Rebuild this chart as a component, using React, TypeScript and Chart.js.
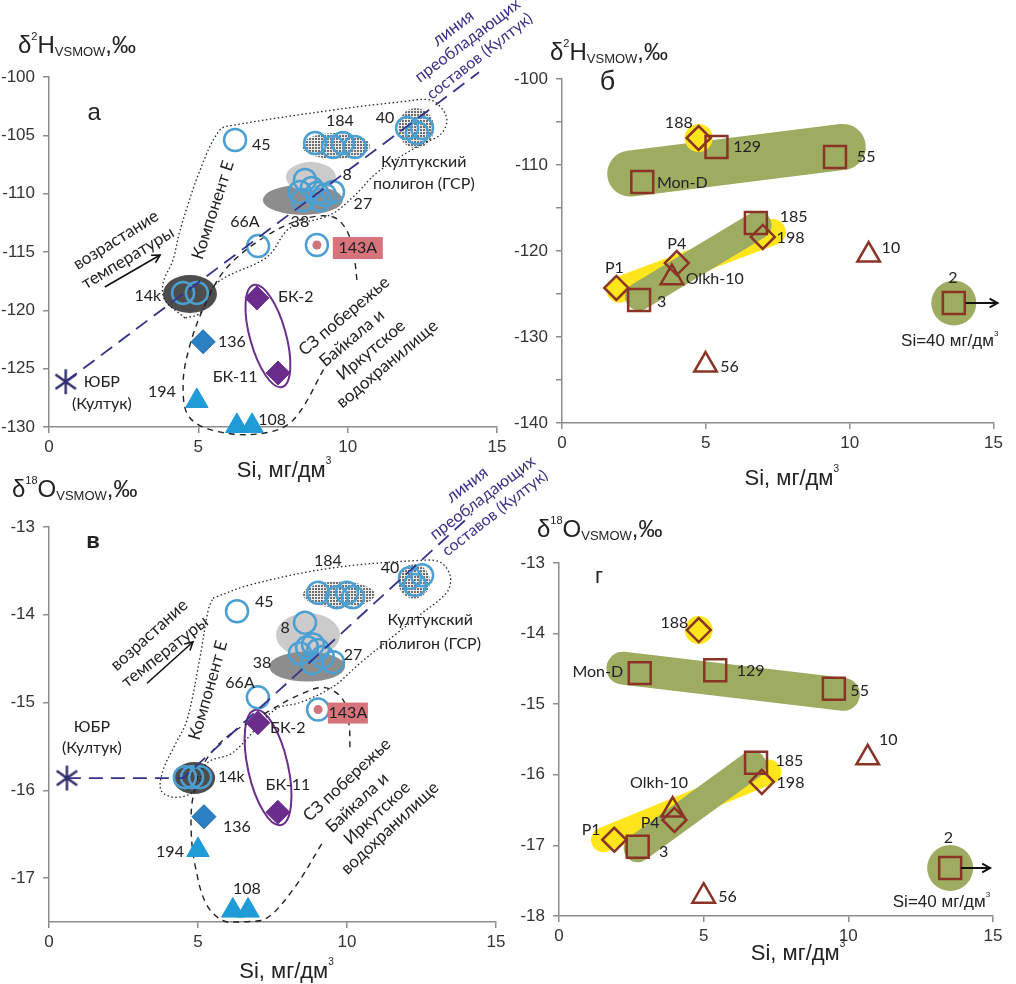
import { useEffect, useRef } from "react";
import { Chart, registerables } from "chart.js";

Chart.register(...registerables);

// ---------------- data ----------------
const siTicks = [0, 5, 10, 15];
const d2hTicksA = [-130, -125, -120, -115, -110, -105, -100];
const d2hTicksB = [-140, -135, -130, -125, -120, -115, -110, -105, -100];
const d2hLabelsB = [-140, -130, -120, -110, -100];
const d18oTicksC = [-17, -16, -15, -14, -13];
const d18oTicksD = [-18, -17, -16, -15, -14, -13];

// panel а : δ2H vs Si
const siYubrH = [0.56];
const d2hYubr = [-126.12];
const si14kH = [4.49, 4.95];
const d2h14k = [-118.51, -118.51];
const si136H = [5.16];
const d2h136 = [-122.69];
const si194H = [4.95];
const d2h194 = [-127.77];
const si108H = [6.29, 6.8];
const d2h108 = [-129.91, -129.91];
const siBkH = [6.96, 7.67];
const d2hBk = [-118.94, -125.37];
const si143H = [8.97];
const d2h143 = [-114.4];
const si66H = [7.0];
const d2h66 = [-114.49];
const si45H = [6.23];
const d2h45 = [-105.4];
const si184H = [8.91, 9.51, 9.84, 10.24];
const d2h184 = [-105.66, -106.0, -105.66, -106.0];
const si40H = [11.99, 12.32, 12.49];
const d2h40 = [-104.37, -104.8, -104.37];
const si8H = [8.57, 8.4, 8.8, 8.97, 9.24, 9.51, 8.5, 9.07];
const d2h8 = [-108.83, -109.86, -109.51, -109.94, -110.11, -109.86, -110.54, -110.54];
const siLineH = [0.56, 14.4];
const d2hLine = [-126.12, -99.6];
const siOutlineEH = [4.55, 3.88, 3.82, 4.15, 4.39, 5.06, 5.72, 6.23, 9.51, 11.75, 12.76, 13.19, 13.32, 13.09, 12.42, 11.01, 10.18, 9.41, 8.07, 7.3, 5.62, 5.06, 4.55];
const d2hOutlineE = [-120.66, -119.11, -117.66, -115.69, -113.11, -107.97, -104.54, -104.11, -102.83, -102.14, -101.97, -102.83, -103.86, -104.97, -105.83, -108.14, -110.29, -111.83, -112.94, -115.43, -117.66, -120.23, -120.66];
const siOutlineNWH = [10.31, 10.24, 10.01, 9.51, 8.4, 7.06, 5.89, 5.22, 4.72, 4.49, 4.72, 5.89, 7.4, 8.24, 9.24];
const d2hOutlineNW = [-117.4, -115.86, -113.37, -112.0, -112.26, -113.97, -116.54, -119.54, -122.97, -126.4, -129.23, -130.51, -130.43, -129.23, -124.86];

// panel в : δ18O vs Si
const siYubrO = [0.6];
const d18oYubr = [-15.86];
const si14kO = [4.56, 4.8, 5.07];
const d18o14k = [-15.85, -15.85, -15.85];
const si136O = [5.2];
const d18o136 = [-16.3];
const si194O = [5.0];
const d18o194 = [-16.68];
const si108O = [6.17, 6.68];
const d18o108 = [-17.37, -17.37];
const siBkO = [7.01, 7.68];
const d18oBk = [-15.23, -16.25];
const si143O = [9.03];
const d18o143 = [-15.08];
const si66O = [7.01];
const d18o66 = [-14.94];
const si45O = [6.31];
const d18o45 = [-13.96];
const si184O = [9.03, 9.66, 10.0, 10.2];
const d18o184 = [-13.75, -13.8, -13.75, -13.8];
const si40O = [12.11, 12.52, 12.28];
const d18o40 = [-13.58, -13.55, -13.66];
const si8O = [8.59, 8.66, 8.42, 8.86, 9.03, 9.19, 9.53, 8.83];
const d18o8 = [-14.09, -14.37, -14.44, -14.34, -14.4, -14.48, -14.54, -14.55];
const siLineO = [0.6, 4.5, 14.2];
const d18oLine = [-15.86, -15.86, -12.85];
const siOutlineEO = [5.5, 6.74, 9.43, 12.45, 13.12, 13.46, 13.36, 12.45, 11.68, 10.44, 9.53, 8.42, 7.58, 6.17, 5.3, 4.9, 4.23, 3.76, 3.83, 4.23, 4.63, 5.07, 5.34, 5.5];
const d18oOutlineE = [-13.81, -13.66, -13.47, -13.38, -13.4, -13.55, -13.74, -14.0, -14.21, -14.55, -14.82, -15.0, -15.08, -15.57, -15.69, -16.0, -16.08, -16.0, -15.77, -15.48, -15.2, -14.48, -13.95, -13.81];
const siOutlineNWO = [10.1, 10.07, 9.87, 9.26, 8.42, 7.32, 5.97, 5.17, 4.83, 4.77, 4.9, 5.3, 5.97, 7.18, 8.19, 9.19];
const d18oOutlineNW = [-15.51, -15.26, -14.97, -14.83, -14.91, -15.11, -15.39, -15.71, -16.08, -16.45, -16.85, -17.31, -17.5, -17.48, -17.13, -16.59];

// panel б : δ2H, squares: 129, 55, Mon-D, 185, 3, 2 ; diamonds: 188, 198, P4, P1 ; triangles: 10, Olkh-10, 56
const siSqB = [5.37, 9.49, 2.79, 6.74, 2.68, 13.62];
const d2hSqB = [-107.91, -109.07, -111.98, -116.74, -125.7, -126.05];
const siDiaB = [4.75, 6.98, 3.99, 1.89];
const d2hDiaB = [-106.86, -118.37, -121.4, -124.3];
const siTriB = [10.66, 3.82, 4.99];
const d2hTriB = [-120.47, -123.1, -133.26];
const siBandUpB = [2.37, 9.76];
const d2hBandUpB = [-111.0, -107.9];
const siBandLowB = [2.68, 6.8];
const d2hBandLowB = [-125.3, -117.0];
const siBandYB = [2.0, 7.33];
const d2hBandYB = [-124.5, -117.8];

// panel г : δ18O, same samples
const siSqD = [5.4, 9.5, 2.79, 6.81, 2.72, 13.52];
const d18oSqD = [-14.52, -14.78, -14.56, -15.83, -17.02, -17.32];
const siDiaD = [4.83, 7.01, 3.99, 1.91];
const d18oDiaD = [-13.95, -16.1, -16.64, -16.92];
const siTriD = [10.67, 3.93, 5.0];
const d18oTriD = [-15.76, -16.5, -17.72];
const siBandUpD = [2.21, 9.83];
const d18oBandUpD = [-14.49, -14.86];
const siBandLowD = [2.72, 6.68];
const d18oBandLowD = [-17.04, -15.86];
const siBandYD = [1.54, 7.25];
const d18oBandYD = [-16.92, -15.96];

// ---------------- styles ----------------
const BLUE = "#4c9fd1";
const BROWN = "#8a3426";
const GREEN = "#9dac60";
const YELLOW = "#ffe61c";
const NAVY = "#34328a";
const NAVY_TXT = "#3d2f86";
const PURPLE = "#6b2d8b";
const TRI_BLUE = "#1f9bd7";
const DIA_BLUE = "#2b80c3";
const TEXT = "#222";
const AXIS = "#8c8c8c";
const LABEL_FONT = 'Lato, "Open Sans", sans-serif';
const AXIS_FONT = '"Liberation Sans", Arial, sans-serif';

Chart.defaults.font.family = AXIS_FONT;

const pts = (xs: number[], ys: number[]) => xs.map((x, i) => ({ x, y: ys[i] }));

function markers(data: any, style: any, r: number, stroke: string, fill: string, lw: number, order = 2) {
  return {
    data,
    pointStyle: style,
    pointRadius: r,
    pointHoverRadius: r,
    pointBorderColor: stroke,
    pointBackgroundColor: fill,
    pointBorderWidth: lw,
    pointHoverBorderWidth: lw,
    showLine: false,
    clip: false,
    order,
  };
}

function line(data: any, color: string, width: number, dash: number[], tension = 0, order = 1, cap = "butt") {
  return {
    data,
    showLine: true,
    borderColor: color,
    backgroundColor: "transparent",
    borderWidth: width,
    borderDash: dash,
    borderCapStyle: cap,
    borderJoinStyle: "round",
    tension,
    fill: false,
    pointRadius: 0,
    pointHoverRadius: 0,
    clip: false,
    order,
  };
}

let asteriskCache: HTMLCanvasElement | null = null;
function asterisk() {
  if (asteriskCache) return asteriskCache;
  const r = 12.5;
  const lw = 2.4;
  const s = Math.ceil(2 * r + 4);
  const c = document.createElement("canvas");
  c.width = s;
  c.height = s;
  const g = c.getContext("2d")!;
  g.strokeStyle = "#2c2a66";
  g.lineWidth = lw;
  const m = s / 2;
  for (const a of [90, 35, 145]) {
    const rad = (a * Math.PI) / 180;
    g.beginPath();
    g.moveTo(m - r * Math.cos(rad), m - r * Math.sin(rad));
    g.lineTo(m + r * Math.cos(rad), m + r * Math.sin(rad));
    g.stroke();
  }
  asteriskCache = c;
  return c;
}

let patternCanvas: HTMLCanvasElement | null = null;
function dotPattern(ctx: CanvasRenderingContext2D) {
  if (!patternCanvas) {
    const c = document.createElement("canvas");
    c.width = 3;
    c.height = 3;
    const g = c.getContext("2d")!;
    g.fillStyle = "#ececec";
    g.fillRect(0, 0, 3, 3);
    g.fillStyle = "#6e6e6e";
    g.fillRect(0, 0, 2, 2);
    patternCanvas = c;
  }
  return ctx.createPattern(patternCanvas, "repeat");
}

type Part = { t: string; size: number; dy?: number };
function drawRich(ctx: CanvasRenderingContext2D, parts: Part[], x: number, base: number, align: string) {
  ctx.save();
  ctx.fillStyle = TEXT;
  ctx.textBaseline = "alphabetic";
  ctx.textAlign = "left";
  let w = 0;
  for (const p of parts) {
    ctx.font = `${p.size}px ${AXIS_FONT}`;
    w += ctx.measureText(p.t).width;
  }
  let cx = align === "center" ? x - w / 2 : align === "right" ? x - w : x;
  for (const p of parts) {
    ctx.font = `${p.size}px ${AXIS_FONT}`;
    ctx.fillText(p.t, cx, base + (p.dy || 0));
    cx += ctx.measureText(p.t).width;
  }
  ctx.restore();
}

function drawArrow(ctx: CanvasRenderingContext2D, x1: number, y1: number, x2: number, y2: number, lw: number, head: number) {
  ctx.save();
  ctx.strokeStyle = "#111";
  ctx.lineWidth = lw;
  ctx.beginPath();
  ctx.moveTo(x1, y1);
  ctx.lineTo(x2, y2);
  ctx.stroke();
  const a = Math.atan2(y2 - y1, x2 - x1);
  ctx.beginPath();
  ctx.moveTo(x2 - head * Math.cos(a - 0.5), y2 - head * Math.sin(a - 0.5));
  ctx.lineTo(x2, y2);
  ctx.lineTo(x2 - head * Math.cos(a + 0.5), y2 - head * Math.sin(a + 0.5));
  ctx.stroke();
  ctx.restore();
}

function makeDeco(spec: any) {
  return {
    id: "deco",
    beforeDatasetsDraw(chart: any) {
      const { ctx } = chart;
      const xs = chart.scales.x;
      const ys = chart.scales.y;
      for (const e of spec.ellipses || []) {
        ctx.save();
        ctx.beginPath();
        ctx.ellipse(xs.getPixelForValue(e.x), ys.getPixelForValue(e.y), e.rx, e.ry, ((e.rot || 0) * Math.PI) / 180, 0, Math.PI * 2);
        if (e.fill) {
          ctx.fillStyle = e.fill === "pattern" ? dotPattern(ctx) : e.fill;
          ctx.fill();
        }
        if (e.stroke) {
          ctx.strokeStyle = e.stroke;
          ctx.lineWidth = e.lw || 2;
          ctx.stroke();
        }
        ctx.restore();
      }
    },
    afterDatasetsDraw(chart: any) {
      const { ctx, chartArea } = chart;
      const xs = chart.scales.x;
      const ys = chart.scales.y;
      for (const t of spec.texts || []) {
        const px = xs.getPixelForValue(t.x);
        const py = ys.getPixelForValue(t.y);
        ctx.save();
        ctx.translate(px, py);
        if (t.rot) ctx.rotate((t.rot * Math.PI) / 180);
        ctx.font = `${t.weight || "normal"} ${t.size || 16}px ${t.font || LABEL_FONT}`;
        ctx.textAlign = t.align || "center";
        ctx.textBaseline = t.base || "middle";
        if (t.bg) {
          ctx.fillStyle = t.bg;
          ctx.fillRect(-t.bw / 2, -t.bh / 2, t.bw, t.bh);
        }
        ctx.fillStyle = t.color || TEXT;
        ctx.fillText(t.t, 0, 0);
        ctx.restore();
      }
      for (const a of spec.arrows || []) {
        drawArrow(ctx, xs.getPixelForValue(a.x1), ys.getPixelForValue(a.y1), xs.getPixelForValue(a.x2), ys.getPixelForValue(a.y2), a.lw || 1.6, a.head || 9);
      }
      for (const r of spec.dataRich || []) {
        drawRich(ctx, r.parts, xs.getPixelForValue(r.x), ys.getPixelForValue(r.y), r.align);
      }
      for (const r of spec.titles || []) {
        const bx = r.anchor === "tl" ? chartArea.left : (chartArea.left + chartArea.right) / 2;
        const by = r.anchor === "tl" ? chartArea.top : chartArea.bottom;
        drawRich(ctx, r.parts, bx + r.dx, by + r.dy, r.align);
      }
    },
  };
}

function baseOptions(d: any, yMin: number, yMax: number, yTicks: number[], yLabelOk: (v: number) => boolean) {
  const grid = { display: true, drawOnChartArea: false, drawTicks: true, tickLength: 6, color: AXIS, lineWidth: 1.5 };
  const border = { display: true, color: AXIS, width: 1.5 };
  return {
    responsive: false,
    animation: false,
    events: [],
    layout: { padding: { left: 0, top: d.t, right: d.w - d.r, bottom: 0 } },
    plugins: { legend: { display: false }, tooltip: { enabled: false }, title: { display: false } },
    scales: {
      x: {
        type: "linear",
        min: 0,
        max: 15,
        afterBuildTicks: (s: any) => {
          s.ticks = siTicks.map((v) => ({ value: v }));
        },
        afterFit: (s: any) => {
          s.height = d.h - d.b;
        },
        grid,
        border,
        ticks: { font: { family: AXIS_FONT, size: 17 }, color: "#333", padding: 4, maxRotation: 0, autoSkip: false },
      },
      y: {
        type: "linear",
        min: yMin,
        max: yMax,
        afterBuildTicks: (s: any) => {
          s.ticks = yTicks.map((v) => ({ value: v }));
        },
        afterFit: (s: any) => {
          s.width = d.l;
        },
        grid,
        border,
        ticks: {
          font: { family: AXIS_FONT, size: 17 },
          color: "#333",
          padding: 8,
          autoSkip: false,
          callback: (v: any) => (yLabelOk(Number(v)) ? String(v) : ""),
        },
      },
    },
  };
}

const titleH = (dx: number, dy: number) => ({
  anchor: "tl",
  dx,
  dy,
  align: "left",
  parts: [
    { t: "δ", size: 24 },
    { t: "2", size: 11, dy: -13 },
    { t: "H", size: 24 },
    { t: "VSMOW", size: 13, dy: 3 },
    { t: ",‰", size: 24 },
  ],
});
const titleO = (dx: number, dy: number) => ({
  anchor: "tl",
  dx,
  dy,
  align: "left",
  parts: [
    { t: "δ", size: 24 },
    { t: "18", size: 11, dy: -13 },
    { t: "O", size: 24 },
    { t: "VSMOW", size: 13, dy: 3 },
    { t: ",‰", size: 24 },
  ],
});
const titleSi = (dx: number, dy: number) => ({
  anchor: "bc",
  dx,
  dy,
  align: "center",
  parts: [
    { t: "Si, мг/дм", size: 22 },
    { t: "3", size: 10, dy: -13 },
  ],
});
const si40Parts = [
  { t: "Si=40 мг/дм", size: 17 },
  { t: "3", size: 8, dy: -10 },
];

// ---------------- panels ----------------
const dimsA = { left: 0, top: 0, w: 560, h: 492, l: 49, r: 497, t: 77, b: 427 };
const dimsB = { left: 510, top: 0, w: 506, h: 492, l: 52, r: 488, t: 79, b: 423 };
const dimsC = { left: 0, top: 450, w: 560, h: 534, l: 49, r: 496, t: 77, b: 472 };
const dimsD = { left: 510, top: 450, w: 506, h: 534, l: 49, r: 496, t: 113, b: 466 };

function configA() {
  const datasets = [
    line(pts(siOutlineEH, d2hOutlineE), "#222", 1.3, [1.5, 2.5], 0.35, 5),
    line(pts(siOutlineNWH, d2hOutlineNW), "#222", 1.4, [6, 5], 0.35, 5),
    markers(pts(si8H, d2h8), "circle", 11, BLUE, "transparent", 2.5),
    markers(pts(si184H, d2h184), "circle", 11, BLUE, "transparent", 2.5),
    markers(pts(si40H, d2h40), "circle", 11, BLUE, "transparent", 2.5),
    markers(pts(si45H, d2h45), "circle", 11, BLUE, "transparent", 2.5),
    markers(pts(si66H, d2h66), "circle", 11, BLUE, "transparent", 2.5),
    markers(pts(si143H, d2h143), "circle", 11, BLUE, "transparent", 2.5),
    markers(pts(si143H, d2h143), "circle", 4.5, "#d1737a", "#d1737a", 0, 1),
    markers(pts(si14kH, d2h14k), "circle", 11, BLUE, "transparent", 2.5),
    markers(pts(si136H, d2h136), "rectRot", 12, "#1f66a6", DIA_BLUE, 1),
    markers(pts(si194H, d2h194), "triangle", 13, TRI_BLUE, TRI_BLUE, 1),
    markers(pts(si108H, d2h108), "triangle", 13, TRI_BLUE, TRI_BLUE, 1),
    markers(pts(siBkH, d2hBk), "rectRot", 12, PURPLE, PURPLE, 1),
    markers(pts(siYubrH, d2hYubr), asterisk(), 12, "#2c2a66", "#2c2a66", 0),
    line(pts(siLineH, d2hLine), NAVY, 1.8, [14, 8], 0, 1),
  ];
  const spec = {
    ellipses: [
      { x: 4.72, y: -118.6, rx: 27, ry: 19, fill: "#4d4d4d" },
      { x: 8.5, y: -110.54, rx: 40, ry: 15, fill: "#8d8d8d" },
      { x: 8.77, y: -108.57, rx: 25, ry: 15, fill: "#cbcbcb" },
      { x: 9.61, y: -105.91, rx: 34, ry: 13, fill: "pattern" },
      { x: 12.29, y: -104.37, rx: 18, ry: 20, fill: "pattern" },
      { x: 7.33, y: -122.2, rx: 18, ry: 53, rot: -15.6, stroke: PURPLE, lw: 2 },
    ],
    texts: [
      { t: "а", x: 1.51, y: -103.09, size: 24, font: AXIS_FONT },
      { t: "184", x: 9.74, y: -103.77 },
      { t: "40", x: 11.25, y: -103.51 },
      { t: "45", x: 6.8, y: -105.83, align: "left" },
      { t: "Култукский", x: 12.55, y: -107.29 },
      { t: "полигон (ГСР)", x: 12.55, y: -109.17 },
      { t: "8", x: 9.98, y: -108.4 },
      { t: "27", x: 10.51, y: -110.89 },
      { t: "38", x: 8.4, y: -112.43 },
      { t: "66A", x: 6.56, y: -112.43 },
      { t: "143A", x: 10.34, y: -114.66, bg: "#d6737b", bw: 50, bh: 22 },
      { t: "14k", x: 3.31, y: -118.77 },
      { t: "136", x: 5.66, y: -122.71, align: "left" },
      { t: "194", x: 3.78, y: -127.0 },
      { t: "108", x: 7.47, y: -129.4 },
      { t: "БК-2", x: 7.67, y: -118.86, align: "left" },
      { t: "БК-11", x: 6.23, y: -125.71 },
      { t: "ЮБР", x: 1.77, y: -126.14 },
      { t: "(Култук)", x: 1.77, y: -128.03 },
      { t: "возрастание", x: 2.24, y: -113.97, rot: -32, size: 17 },
      { t: "температуры", x: 2.64, y: -115.51, rot: -31, size: 17 },
      { t: "Компонент Е", x: 5.49, y: -111.4, rot: -72, size: 17 },
      { t: "линия", x: 13.0, y: -97.4, rot: -37, size: 17, align: "left", base: "alphabetic", color: NAVY_TXT },
      { t: "преобладающих", x: 12.42, y: -100.51, rot: -37, size: 16.5, align: "left", base: "alphabetic", color: NAVY_TXT },
      { t: "составов (Култук)", x: 12.82, y: -101.97, rot: -38, size: 16, align: "left", base: "alphabetic", color: NAVY_TXT },
      { t: "СЗ побережье", x: 9.88, y: -120.49, rot: -40, size: 17 },
      { t: "Байкала и", x: 10.14, y: -122.37, rot: -40, size: 17 },
      { t: "Иркутское", x: 10.78, y: -123.4, rot: -40, size: 17 },
      { t: "водохранилище", x: 11.32, y: -124.6, rot: -40, size: 17 },
    ],
    arrows: [{ x1: 1.87, y1: -118.0, x2: 3.72, y2: -115.26, lw: 1.6, head: 9 }],
    titles: [titleH(-31, -24), titleSi(11, 50)],
  };
  return {
    type: "scatter",
    data: { datasets },
    options: baseOptions(dimsA, -130, -100, d2hTicksA, () => true),
    plugins: [makeDeco(spec)],
  };
}

function configB() {
  const datasets = [
    markers(pts(siSqB, d2hSqB), "rect", 15.5, BROWN, "transparent", 2.5),
    markers(pts(siDiaB, d2hDiaB), "rectRot", 12, BROWN, "transparent", 2.5),
    markers(pts(siTriB, d2hTriB), "triangle", 13, BROWN, "transparent", 2.5),
    markers(pts([siDiaB[0]], [d2hDiaB[0]]), "circle", 14, YELLOW, YELLOW, 0, 20),
    markers(pts([siSqB[5]], [d2hSqB[5]]), "circle", 22.5, GREEN, GREEN, 0, 20),
    line(pts(siBandUpB, d2hBandUpB), GREEN, 46, [], 0, 28, "round"),
    line(pts(siBandLowB, d2hBandLowB), GREEN, 28, [], 0, 28, "round"),
    line(pts(siBandYB, d2hBandYB), YELLOW, 26, [], 0, 30, "round"),
  ];
  const spec = {
    texts: [
      { t: "б", x: 1.58, y: -100.47, size: 27, font: AXIS_FONT },
      { t: "188", x: 4.06, y: -105.12 },
      { t: "129", x: 5.95, y: -107.91, align: "left" },
      { t: "55", x: 10.25, y: -109.07, align: "left" },
      { t: "Mon-D", x: 3.3, y: -112.09, align: "left" },
      { t: "185", x: 7.57, y: -116.05, align: "left" },
      { t: "198", x: 7.46, y: -118.49, align: "left" },
      { t: "10", x: 11.11, y: -119.65, align: "left" },
      { t: "P4", x: 3.99, y: -119.19 },
      { t: "P1", x: 1.82, y: -121.98 },
      { t: "Olkh-10", x: 4.3, y: -123.26, align: "left" },
      { t: "3", x: 3.3, y: -125.93, align: "left" },
      { t: "56", x: 5.5, y: -133.49, align: "left" },
      { t: "2", x: 13.59, y: -123.14 },
    ],
    arrows: [{ x1: 14.03, y1: -126.05, x2: 15.14, y2: -126.05, lw: 2, head: 9 }],
    dataRich: [{ parts: si40Parts, x: 15.17, y: -131.05, align: "right" }],
    titles: [titleH(-12, -19), titleSi(14, 62)],
  };
  return {
    type: "scatter",
    data: { datasets },
    options: baseOptions(dimsB, -140, -100, d2hTicksB, (v) => d2hLabelsB.includes(v)),
    plugins: [makeDeco(spec)],
  };
}

function configC() {
  const datasets = [
    line(pts(siOutlineEO, d18oOutlineE), "#222", 1.3, [1.5, 2.5], 0.35, 5),
    line(pts(siOutlineNWO, d18oOutlineNW), "#222", 1.4, [6, 5], 0.35, 5),
    markers(pts(si8O, d18o8), "circle", 11, BLUE, "transparent", 2.5),
    markers(pts(si184O, d18o184), "circle", 11, BLUE, "transparent", 2.5),
    markers(pts(si40O, d18o40), "circle", 11, BLUE, "transparent", 2.5),
    markers(pts(si45O, d18o45), "circle", 11, BLUE, "transparent", 2.5),
    markers(pts(si66O, d18o66), "circle", 11, BLUE, "transparent", 2.5),
    markers(pts(si143O, d18o143), "circle", 11, BLUE, "transparent", 2.5),
    markers(pts(si143O, d18o143), "circle", 4.5, "#d1737a", "#d1737a", 0, 1),
    markers(pts(si14kO, d18o14k), "circle", 11, BLUE, "transparent", 2.5),
    markers(pts(si136O, d18o136), "rectRot", 12, "#1f66a6", DIA_BLUE, 1),
    markers(pts(si194O, d18o194), "triangle", 13, TRI_BLUE, TRI_BLUE, 1),
    markers(pts(si108O, d18o108), "triangle", 13, TRI_BLUE, TRI_BLUE, 1),
    markers(pts(siBkO, d18oBk), "rectRot", 12, PURPLE, PURPLE, 1),
    markers(pts(siYubrO, d18oYubr), asterisk(), 12, "#2c2a66", "#2c2a66", 0),
    line(pts(siLineO, d18oLine), NAVY, 1.8, [14, 8], 0, 1),
  ];
  const spec = {
    ellipses: [
      { x: 4.87, y: -15.86, rx: 21, ry: 16, fill: "#4d4d4d" },
      { x: 8.69, y: -14.23, rx: 32, ry: 22, fill: "#cbcbcb" },
      { x: 8.66, y: -14.59, rx: 38, ry: 15, fill: "#8d8d8d" },
      { x: 9.73, y: -13.77, rx: 36, ry: 13, fill: "pattern" },
      { x: 12.25, y: -13.62, rx: 16, ry: 17, fill: "pattern" },
      { x: 7.35, y: -15.74, rx: 20, ry: 59, rot: -12.7, stroke: PURPLE, lw: 2 },
    ],
    texts: [
      { t: "в", x: 1.48, y: -13.17, size: 22, font: AXIS_FONT, weight: "bold" },
      { t: "184", x: 9.36, y: -13.38 },
      { t: "40", x: 11.44, y: -13.47 },
      { t: "45", x: 6.91, y: -13.85, align: "left" },
      { t: "Култукский", x: 12.79, y: -14.06 },
      { t: "полигон (ГСР)", x: 12.79, y: -14.33 },
      { t: "8", x: 7.92, y: -14.15 },
      { t: "27", x: 10.2, y: -14.46 },
      { t: "38", x: 7.15, y: -14.55 },
      { t: "66A", x: 6.41, y: -14.77 },
      { t: "143A", x: 10.03, y: -15.12, bg: "#d6737b", bw: 40, bh: 21 },
      { t: "БК-2", x: 7.42, y: -15.29, align: "left" },
      { t: "14k", x: 5.67, y: -15.85, align: "left" },
      { t: "БК-11", x: 8.02, y: -15.94 },
      { t: "136", x: 5.84, y: -16.42, align: "left" },
      { t: "194", x: 4.06, y: -16.7 },
      { t: "108", x: 6.64, y: -17.12 },
      { t: "ЮБР", x: 1.44, y: -15.28 },
      { t: "(Култук)", x: 1.44, y: -15.52 },
      { t: "возрастание", x: 3.36, y: -14.23, rot: -42, size: 17 },
      { t: "температуры", x: 3.89, y: -14.42, rot: -38, size: 17 },
      { t: "Компонент Е", x: 5.34, y: -14.86, rot: -74, size: 17 },
      { t: "линия", x: 13.5, y: -12.73, rot: -37, size: 17, align: "left", base: "alphabetic", color: NAVY_TXT },
      { t: "преобладающих", x: 12.95, y: -13.15, rot: -37, size: 16.5, align: "left", base: "alphabetic", color: NAVY_TXT },
      { t: "составов (Култук)", x: 13.36, y: -13.34, rot: -38, size: 16, align: "left", base: "alphabetic", color: NAVY_TXT },
      { t: "СЗ побережье", x: 10.0, y: -15.88, rot: -43, size: 17 },
      { t: "Байкала и", x: 10.34, y: -16.14, rot: -43, size: 17 },
      { t: "Иркутское", x: 11.01, y: -16.26, rot: -43, size: 17 },
      { t: "водохранилище", x: 11.44, y: -16.43, rot: -43, size: 17 },
    ],
    arrows: [{ x1: 3.29, y1: -14.78, x2: 4.83, y2: -14.31, lw: 1.6, head: 9 }],
    titles: [titleO(-37, -30), titleSi(14, 56)],
  };
  return {
    type: "scatter",
    data: { datasets },
    options: baseOptions(dimsC, -17.5, -13, d18oTicksC, () => true),
    plugins: [makeDeco(spec)],
  };
}

function configD() {
  const datasets = [
    markers(pts(siSqD, d18oSqD), "rect", 15.5, BROWN, "transparent", 2.5),
    markers(pts(siDiaD, d18oDiaD), "rectRot", 12, BROWN, "transparent", 2.5),
    markers(pts(siTriD, d18oTriD), "triangle", 13, BROWN, "transparent", 2.5),
    markers(pts([siDiaD[0]], [d18oDiaD[0]]), "circle", 14, YELLOW, YELLOW, 0, 20),
    markers(pts([siSqD[5]], [d18oSqD[5]]), "circle", 23, GREEN, GREEN, 0, 20),
    line(pts(siBandUpD, d18oBandUpD), GREEN, 33, [], 0, 28, "round"),
    line(pts(siBandLowD, d18oBandLowD), GREEN, 28, [], 0, 28, "round"),
    line(pts(siBandYD, d18oBandYD), YELLOW, 25, [], 0, 30, "round"),
  ];
  const spec = {
    texts: [
      { t: "г", x: 1.38, y: -13.2, size: 22, font: AXIS_FONT },
      { t: "188", x: 3.99, y: -13.85 },
      { t: "Mon-D", x: 1.34, y: -14.54 },
      { t: "129", x: 6.14, y: -14.53, align: "left" },
      { t: "55", x: 10.07, y: -14.81, align: "left" },
      { t: "185", x: 7.48, y: -15.8, align: "left" },
      { t: "198", x: 7.52, y: -16.12, align: "left" },
      { t: "Olkh-10", x: 3.46, y: -16.12 },
      { t: "P4", x: 3.15, y: -16.68 },
      { t: "P1", x: 1.11, y: -16.78 },
      { t: "3", x: 3.46, y: -17.09, align: "left" },
      { t: "10", x: 11.38, y: -15.51 },
      { t: "56", x: 5.5, y: -17.73, align: "left" },
      { t: "2", x: 13.46, y: -16.9 },
    ],
    arrows: [{ x1: 13.89, y1: -17.32, x2: 14.9, y2: -17.32, lw: 2, head: 9 }],
    dataRich: [{ parts: si40Parts, x: 14.9, y: -17.87, align: "right" }],
    titles: [titleO(-22, -26), titleSi(22, 44)],
  };
  return {
    type: "scatter",
    data: { datasets },
    options: baseOptions(dimsD, -18, -13, d18oTicksD, () => true),
    plugins: [makeDeco(spec)],
  };
}

function Panel({ dims, make }: { dims: any; make: () => any }) {
  const ref = useRef<HTMLCanvasElement | null>(null);
  useEffect(() => {
    if (!ref.current) return;
    const chart = new Chart(ref.current, make());
    return () => chart.destroy();
  }, []);
  return (
    <canvas
      ref={ref}
      width={dims.w}
      height={dims.h}
      style={{ position: "absolute", left: dims.left, top: dims.top, width: dims.w, height: dims.h }}
    />
  );
}

export default function App() {
  return (
    <div style={{ position: "absolute", left: 0, top: 0, width: 1016, height: 984, background: "#fff", overflow: "hidden" }}>
      <Panel dims={dimsA} make={configA} />
      <Panel dims={dimsC} make={configC} />
      <Panel dims={dimsB} make={configB} />
      <Panel dims={dimsD} make={configD} />
    </div>
  );
}
